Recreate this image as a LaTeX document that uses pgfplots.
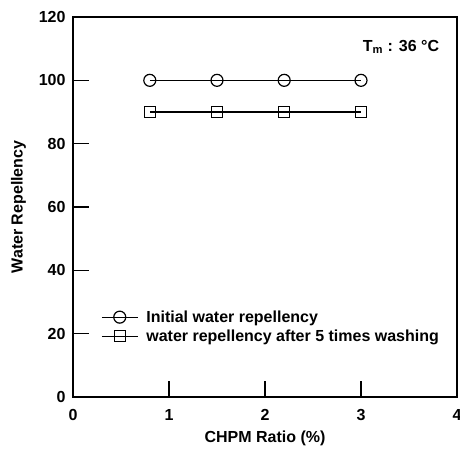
\documentclass[border=0pt]{standalone}
\usepackage{pgfplots}
\pgfplotsset{compat=1.18}
\usepackage{fontspec}
\setmainfont{Liberation Sans}
\begin{document}
\begin{tikzpicture}
\useasboundingbox (-73pt,-53pt) rectangle (387pt,397pt);
\begin{axis}[
  at={(0,0)}, anchor=south west,
  scale only axis, width=384pt, height=380pt,
  xmin=0, xmax=4, ymin=0, ymax=120,
  xtick={0,1,2,3,4}, ytick={0,20,40,60,80,100,120},
  tick align=inside, xtick pos=bottom, ytick pos=left,
  major tick length=16pt,
  axis line style={line width=1.4pt},
  every tick/.style={line width=1.2pt, black},
  /pgf/number format/assume math mode=true,
  ticklabel style={font=\fontsize{16}{18}\selectfont\bfseries},
  xticklabel style={yshift=-9pt},
  yticklabel style={xshift=-4pt},
  label style={font=\fontsize{16}{18}\selectfont\bfseries},
  xlabel={CHPM Ratio (\%)},
  ylabel={Water Repellency},
  xlabel style={yshift=-3pt},
  ylabel style={yshift=6pt},
  legend style={at={(0.065,0.185)}, anchor=west, draw=none, fill=none,
    font=\fontsize{16}{18}\selectfont\bfseries, row sep=2pt},
  legend cell align=left,
  legend image code/.code={\draw[line width=1.2pt] (0pt,0pt) -- (36pt,0pt); \draw[#1, line width=1.2pt, mark repeat=1] plot coordinates {(18pt,0pt)};},
  every axis legend/.append style={nodes={inner xsep=8pt}},
]
\addplot[black, line width=1.2pt, mark=o, mark size=6pt, mark options={fill=white, line width=1.2pt}] coordinates {(0.8,100) (1.5,100) (2.2,100) (3.0,100)};
\addlegendentry{Initial water repellency}
\addplot[black, line width=1.2pt, mark=square, mark size=5.5pt, mark options={fill=white, line width=1.2pt}] coordinates {(0.8,90) (1.5,90) (2.2,90) (3.0,90)};
\addlegendentry{water repellency after 5 times washing}
\node[font=\fontsize{16}{18}\selectfont\bfseries, anchor=east] at (axis cs:3.85,110.5) {T$_{\mathrm{\mathbf{m}}}$ : 36 \textdegree C};
\end{axis}
\end{tikzpicture}
\end{document}
